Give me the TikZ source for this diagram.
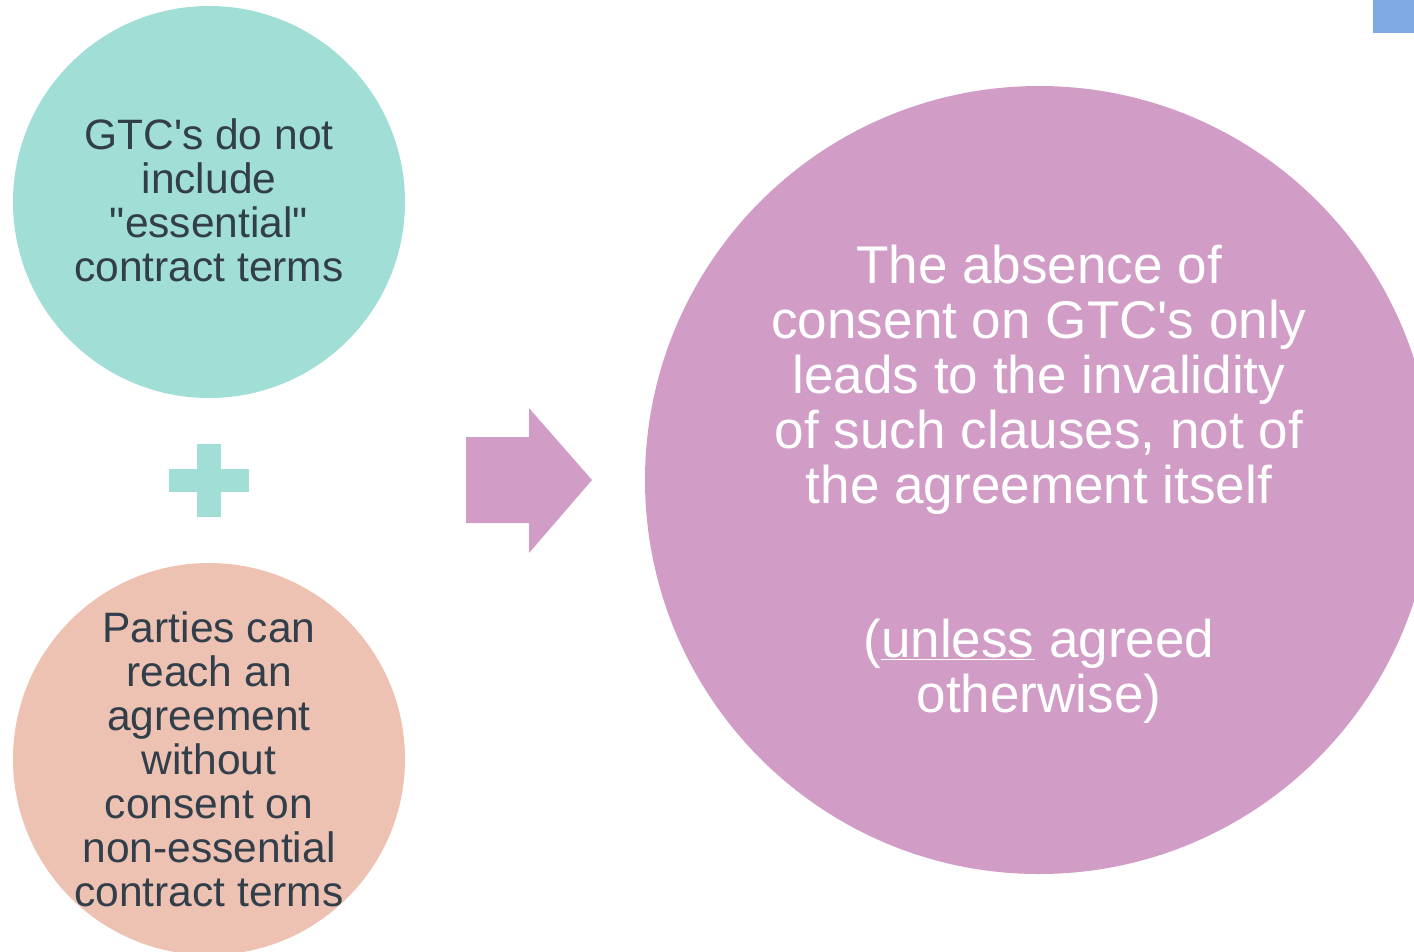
\documentclass[tikz,border=0pt]{standalone}
\usepackage{fontspec}
\setmainfont{Liberation Sans}
\usepackage{tikz}
\usetikzlibrary{positioning}

\definecolor{gtcteal}{HTML}{A0DED6}
\definecolor{gtcpeach}{HTML}{EDC2B3}
\definecolor{gtcmauve}{HTML}{D19CC6}
\definecolor{gtcblue}{HTML}{80AAE3}
\definecolor{gtcink}{HTML}{323F4A}

\begin{document}
\begin{tikzpicture}[x=0.75pt,y=-0.75pt,
    disc/.style={circle,inner sep=0pt,minimum size=#1*1.5pt},
    smalltxt/.style={align=center,text=gtcink,
      font=\fontsize{31.9pt}{33pt}\selectfont},
    bigtxt/.style={align=center,text=white,
      font=\fontsize{39.8pt}{41.3pt}\selectfont}]
  \useasboundingbox (0,0) rectangle (1414,951);
  \clip (0,0) rectangle (1414,951);

  % circles
  \node[disc=196,fill=gtcteal]  (Terms)   at (209,202)  {};
  \node[disc=196,fill=gtcpeach] (Parties) at (209,759)  {};
  \node[disc=394,fill=gtcmauve] (Result)  at (1039,480) {};

  % plus sign and arrow
  \fill[gtcteal] (169,469) rectangle (249,492);
  \fill[gtcteal] (197,444) rectangle (221,517);
  \fill[gtcmauve] (466,437) -- (529,437) -- (529,408) -- (592,480)
    -- (529,553) -- (529,523) -- (466,523) -- cycle;

  % corner mark
  \fill[gtcblue] (1373,0) rectangle (1414,33);

  % texts
  \node[smalltxt] (TermsText) at ([yshift=1.5pt]Terms)
    {GTC\textquotesingle s do not\\include\\\textquotedbl essential\textquotedbl\\contract terms};
  \node[smalltxt] (PartiesText) at (Parties)
    {Parties can\\reach an\\agreement\\without\\consent on\\non-essential\\contract terms};
  \node[bigtxt] (ResultText) at ([yshift=-3pt]Result)
    {The absence of\\consent on GTC\textquotesingle s only\\leads to the invalidity\\of such clauses, not of\\the agreement itself\\[74pt]
     (\underline{unless} agreed\\otherwise)};
\end{tikzpicture}
\end{document}
